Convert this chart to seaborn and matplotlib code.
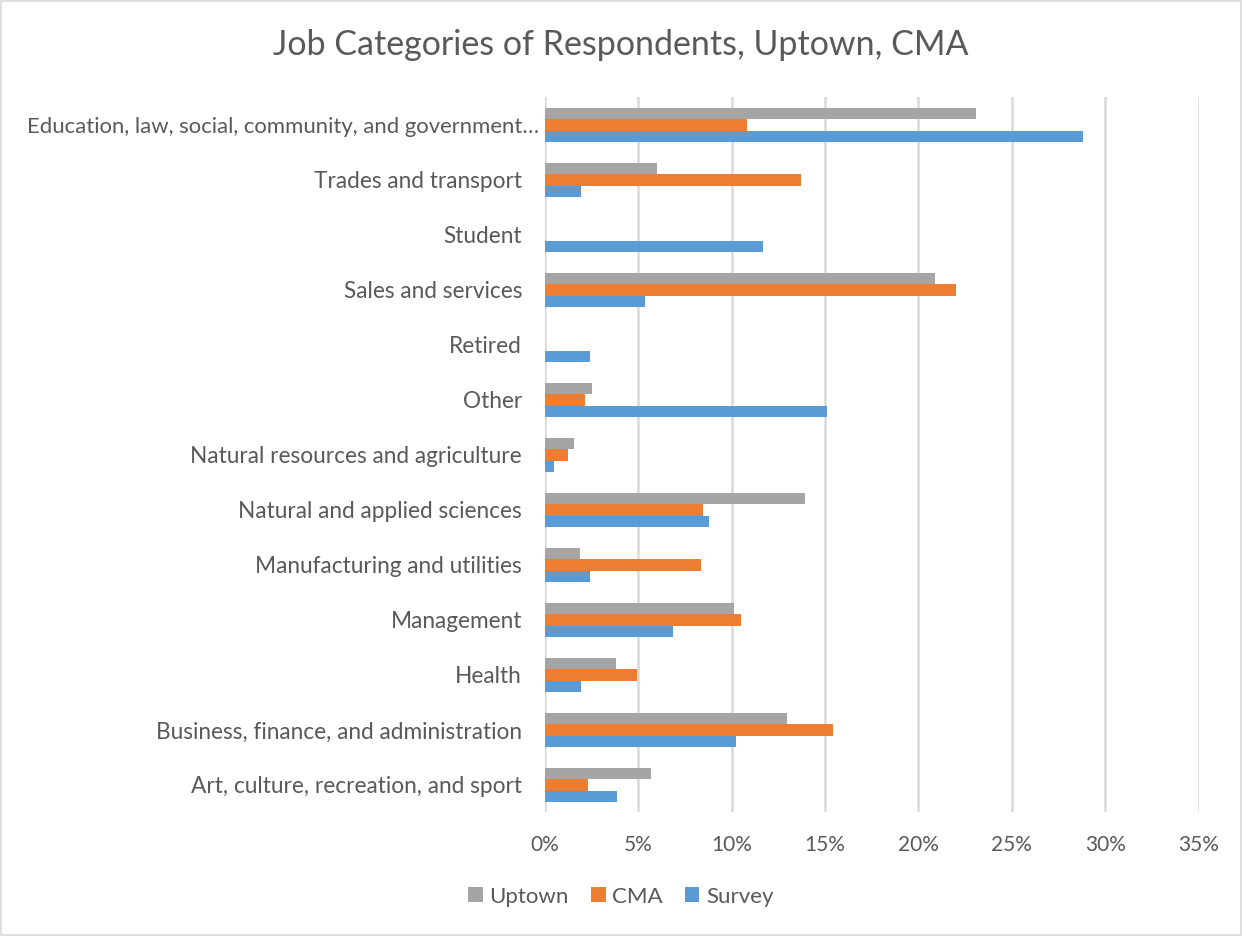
import matplotlib
matplotlib.use("Agg")
import matplotlib.pyplot as plt
import matplotlib.transforms as mtransforms
import seaborn as sns
import pandas as pd
from matplotlib.ticker import PercentFormatter
from matplotlib.patches import Rectangle

categories = [
    "Education, law, social, community, and government…",
    "Trades and transport",
    "Student",
    "Sales and services",
    "Retired",
    "Other",
    "Natural resources and agriculture",
    "Natural and applied sciences",
    "Manufacturing and utilities",
    "Management",
    "Health",
    "Business, finance, and administration",
    "Art, culture, recreation, and sport",
]
uptown = [23.1, 6.0, 0.0, 20.9, 0.0, 2.5, 1.57, 13.9, 1.86, 10.1, 3.78, 12.98, 5.69]
cma = [10.8, 13.7, 0.0, 22.0, 0.0, 2.15, 1.23, 8.45, 8.33, 10.5, 4.92, 15.45, 2.32]
survey = [28.8, 1.91, 11.7, 5.35, 2.4, 15.1, 0.46, 8.77, 2.4, 6.83, 1.91, 10.24, 3.87]
series_names = ["Uptown", "CMA", "Survey"]
colors = ["#A5A5A5", "#ED7D31", "#5B9BD5"]
xticks = [0, 5, 10, 15, 20, 25, 30, 35]

rows = []
for name, vals in zip(series_names, [uptown, cma, survey]):
    for c, v in zip(categories, vals):
        rows.append({"Category": c, "Series": name, "Value": v})
df = pd.DataFrame(rows)

sns.set_theme(style="white")
plt.rcParams["font.family"] = ["Lato", "DejaVu Sans"]
text_color = "#595959"

fig = plt.figure(figsize=(12.42, 9.36), dpi=100)
ax = fig.add_axes([0.4388, 0.132, 0.5262, 0.764])

sns.barplot(data=df, y="Category", x="Value", hue="Series", order=categories,
            hue_order=series_names, palette=colors, orient="h", width=0.62,
            gap=0.0, errorbar=None, ax=ax, saturation=1, linewidth=0)

ax.set_xlim(0, 35)
ax.set_ylim(12.5, -0.5)
ax.set_xticks(xticks)
ax.xaxis.set_major_formatter(PercentFormatter(decimals=0))
ax.grid(axis="x", color="#D9D9D9", linewidth=1.8)
ax.set_axisbelow(True)
for s in ax.spines.values():
    s.set_visible(False)
ax.set_xlabel("")
ax.set_ylabel("")
ax.tick_params(axis="both", length=0, colors=text_color)
ax.tick_params(axis="y", pad=16.5, labelsize=16.3)
ax.tick_params(axis="x", pad=16, labelsize=15)

# The long truncated label sits closer to the axis, as in the reference
first = ax.get_yticklabels()[0]
first.set_fontsize(15.9)
first.set_transform(first.get_transform() +
                    mtransforms.ScaledTranslation(17 / 100, 0, fig.dpi_scale_trans))

handles, labels = ax.get_legend_handles_labels()
ax.legend_.remove()
fig.legend(handles, labels, loc="center", bbox_to_anchor=(0.5, 0.042), ncol=3,
           frameon=False, fontsize=16, labelcolor=text_color,
           handlelength=0.65, handleheight=0.65, handletextpad=0.3, columnspacing=1.0)

fig.text(0.5, 0.952, "Job Categories of Respondents, Uptown, CMA", ha="center", va="center",
         fontsize=24.5, color=text_color)

fig.patches.append(Rectangle((0.0008, 0.001), 0.9984, 0.998, transform=fig.transFigure,
                             fill=False, edgecolor="#D9D9D9", linewidth=1.2))

fig.savefig("out.png", dpi=100, facecolor="white")
